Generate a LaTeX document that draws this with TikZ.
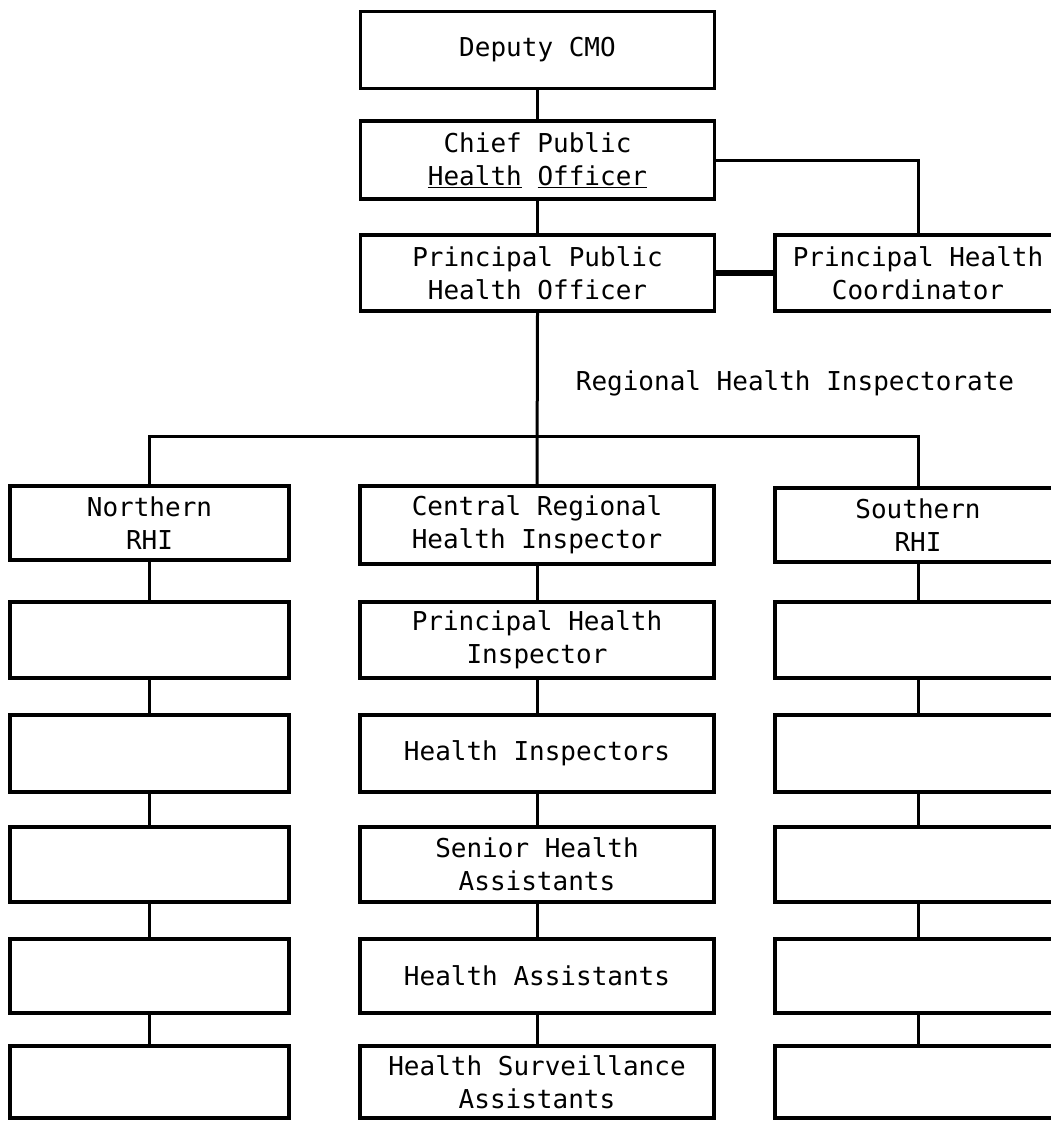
\documentclass[tikz,border=0pt]{standalone}
\usepackage{fontspec}
\setmainfont{DejaVu Sans Mono}
\begin{document}
\begin{tikzpicture}[x=1pt,y=-1pt,
  box/.style={draw,line width=3.8pt,rectangle,inner sep=0pt,align=center,
    font=\fontsize{26}{33}\selectfont},
  lcol/.style={box,minimum width=279pt},
  ccol/.style={box,minimum width=354pt},
  rcol/.style={box,minimum width=286pt},
  conn/.style={line width=3pt},
  lbl/.style={inner sep=0pt,font=\fontsize{26}{33}\selectfont}]
\useasboundingbox (0,0) rectangle (1050,1121);
% top chain
\node[ccol,minimum height=77pt] (dcmo) at (537.5,50) {Deputy CMO};
\node[ccol,minimum height=78pt] (cpho) at (537.5,160) {Chief Public\\\underline{Health} \underline{Officer}};
\node[ccol,minimum height=76pt] (ppho) at (537.5,273) {Principal Public\\Health Officer};
\node[rcol,minimum height=76pt] (phc) at (918,273) {Principal Health\\Coordinator};
\node[lbl] (rhi) at (795,383) {Regional Health Inspectorate};
% side columns
\node[lcol,minimum height=74pt] (l1) at (149.5,523) {Northern\\RHI};
\node[rcol,minimum height=74pt] (r1) at (918,525) {Southern\\RHI};
\foreach \n/\y/\h in {2/640/76,3/753.5/77,4/864.5/75,5/976/74,6/1082/72}{
  \node[lcol,minimum height=\h pt] (l\n) at (149.5,\y) {};
  \node[rcol,minimum height=\h pt] (r\n) at (918,\y) {};
}
% centre column
\node[ccol,minimum height=78pt] (c1) at (537,525) {Central Regional\\Health Inspector};
\node[ccol,minimum height=76pt] (c2) at (537,640) {Principal Health\\Inspector};
\node[ccol,minimum height=77pt] (c3) at (537,753.5) {Health Inspectors};
\node[ccol,minimum height=75pt] (c4) at (537,864.5) {Senior Health\\Assistants};
\node[ccol,minimum height=74pt] (c5) at (537,976) {Health Assistants};
\node[ccol,minimum height=72pt] (c6) at (537,1082) {Health Surveillance\\Assistants};
% connectors
\draw[conn] (dcmo) -- (cpho);
\draw[conn] (cpho) -- (ppho);
\draw[conn] (cpho.east) -| (phc.north);
\draw[line width=6pt] (ppho.east) -- (phc.west);
\draw[conn] (ppho.south) -- (c1.north);
\coordinate (bar) at (537,436);
\draw[conn] (l1.north) |- (bar) -| (r1.north);
\foreach \a/\b in {1/2,2/3,3/4,4/5,5/6}{
  \draw[conn] (l\a) -- (l\b);
  \draw[conn] (c\a) -- (c\b);
  \draw[conn] (r\a) -- (r\b);
}
\end{tikzpicture}
\end{document}
